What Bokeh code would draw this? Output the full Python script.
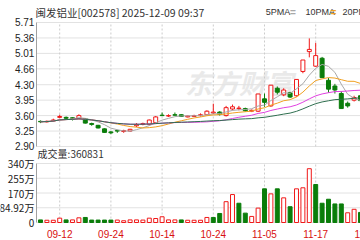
import numpy as np
import pandas as pd
from bokeh.plotting import figure
from bokeh.models import Label, Range1d, ColumnDataSource
from bokeh.embed import file_html
from bokeh.resources import INLINE

# ---------------- data ----------------
dates = ["09-09", "09-10", "09-11", "09-12", "09-15", "09-16", "09-17", "09-18", "09-19", "09-22",
         "09-23", "09-24", "09-25", "09-26", "09-29", "09-30", "10-09", "10-10", "10-13", "10-14",
         "10-15", "10-16", "10-17", "10-20", "10-21", "10-22", "10-23", "10-24", "10-27", "10-28",
         "10-29", "10-30", "10-31", "11-03", "11-04", "11-05", "11-06", "11-07", "11-10", "11-11",
         "11-12", "11-13", "11-14", "11-17", "11-18", "11-19", "11-20", "11-21", "11-24", "11-25",
         "11-26"]
opens = [3.47, 3.46, 3.48, 3.56, 3.56, 3.55, 3.53, 3.53, 3.42, 3.38,
         3.30, 3.23, 3.26, 3.24, 3.25, 3.37, 3.40, 3.40, 3.44, 3.61,
         3.59, 3.62, 3.62, 3.57, 3.58, 3.60, 3.62, 3.66, 3.68, 3.60,
         3.75, 3.76, 3.76, 3.70, 3.70, 3.98, 3.82, 4.22, 4.07, 4.12,
         4.05, 4.60, 5.05, 4.72, 4.90, 4.40, 4.27, 4.10, 3.88, 3.95,
         4.05]
highs = [3.49, 3.49, 3.53, 3.62, 3.58, 3.56, 3.63, 3.54, 3.44, 3.39,
         3.31, 3.25, 3.28, 3.28, 3.30, 3.43, 3.44, 3.51, 3.59, 3.67,
         3.63, 3.67, 3.63, 3.60, 3.62, 3.65, 3.72, 3.87, 3.70, 3.82,
         3.85, 3.82, 3.78, 3.74, 4.09, 4.10, 4.29, 4.26, 4.22, 4.14,
         4.42, 4.86, 5.35, 5.25, 4.93, 4.45, 4.32, 4.15, 3.92, 4.05,
         4.08]
lows = [3.43, 3.44, 3.46, 3.54, 3.50, 3.49, 3.52, 3.42, 3.37, 3.31,
        3.21, 3.18, 3.21, 3.21, 3.23, 3.34, 3.38, 3.38, 3.42, 3.59,
        3.57, 3.60, 3.57, 3.56, 3.57, 3.58, 3.61, 3.64, 3.60, 3.58,
        3.72, 3.72, 3.69, 3.68, 3.68, 3.80, 3.80, 4.08, 4.04, 4.00,
        4.03, 4.56, 4.92, 4.70, 4.46, 4.12, 4.10, 3.76, 3.78, 3.92,
        3.90]
closes = [3.46, 3.47, 3.50, 3.58, 3.54, 3.54, 3.60, 3.43, 3.40, 3.32,
          3.22, 3.21, 3.25, 3.26, 3.29, 3.40, 3.42, 3.50, 3.57, 3.60,
          3.60, 3.61, 3.58, 3.59, 3.60, 3.62, 3.70, 3.68, 3.63, 3.78,
          3.80, 3.77, 3.71, 3.72, 4.09, 3.90, 4.29, 4.13, 4.18, 4.02,
          4.42, 4.86, 5.10, 4.96, 4.46, 4.20, 4.18, 3.76, 3.82, 4.01,
          3.94]
volumes_wan = [15, 13, 13, 25, 15, 15, 27, 29, 14, 14,
               14, 14, 14, 10, 15, 15, 14, 25, 23, 33,
               15, 15, 15, 13, 13, 13, 29, 29, 52, 120,
               161, 111, 54, 35, 83, 194, 165, 194, 142, 91,
               194, 200, 310, 219, 111, 134, 107, 107, 56, 76,
               58]

price_ticks = [2.90, 3.25, 3.60, 3.95, 4.30, 4.66, 5.01, 5.36, 5.71]
price_tick_labels = ["2.90", "3.25", "3.60", "3.95", "4.30", "4.66", "5.01", "5.36", "5.71"]
vol_ticks = [0, 849200, 1700000, 2550000, 3400000]
vol_tick_labels = ["0", "84.92万", "170万", "255万", "340万"]
date_tick_idx = [3, 11, 19, 27, 35, 43, 51]
date_tick_labels = ["09-12", "09-24", "10-14", "10-24", "11-05", "11-17", "11-27"]
ma_windows = [5, 10, 20, 30]
ma_names = ["5PMA", "10PMA", "20PMA", "30PMA"]
title_text = "闽发铝业[002578] 2025-12-09 09:37"
vol_title = "成交量:360831"

# ---------------- styles ----------------
UP = "#f01818"
DOWN = "#0a7d0a"
MA_COLORS = ["#a8a8a8", "#f0a020", "#e040e0", "#2f6f4f"]
GRID = "#e2e2e2"
VGRID = "#cccccc"
BORDER = "#a0a0a0"
CJK = "Noto Sans CJK SC"
LAT = "Liberation Sans"

n = len(closes)
idx = np.arange(n)
o = np.array(opens); c = np.array(closes); h = np.array(highs); l = np.array(lows)
vol = np.array(volumes_wan) * 1e4
up = c >= o
prev_close = np.r_[o[0], c[:-1]]
vol_up = c >= prev_close

src = ColumnDataSource(dict(
    x=idx, top=np.maximum(o, c), bottom=np.minimum(o, c), high=h, low=l,
    color=[UP if u else DOWN for u in up],
    fill=["#ffffff" if u else DOWN for u in up],
    vol=vol,
    vcolor=[UP if u else DOWN for u in vol_up],
    vfill=["#ffffff" if u else DOWN for u in vol_up],
))

# one frame over the whole 360x240 canvas; price on the main y range,
# volume on an extra y range placed in the lower band
X0, X1 = -0.625, 50.0          # price/volume panels' left edge .. canvas right edge
p = figure(width=360, height=240, x_range=Range1d(-6.25, 50.0),
           y_range=Range1d(0.7698, 6.2085),
           output_backend="svg", toolbar_location=None,
           min_border=0, min_border_left=0, min_border_right=0,
           min_border_top=0, min_border_bottom=0)
p.extra_y_ranges = {"vol": Range1d(-1037288, 12793220)}
p.axis.visible = False
p.grid.visible = False
p.outline_line_color = None
p.background_fill_color = "white"
p.border_fill_color = "white"

# grid lines of the price panel
p.segment(x0=[X0] * len(price_ticks), x1=[X1 + 1] * len(price_ticks),
          y0=price_ticks, y1=price_ticks, line_color=GRID, line_width=1)
p.segment(x0=date_tick_idx, x1=date_tick_idx, y0=price_ticks[0], y1=price_ticks[-1],
          line_color=VGRID, line_width=1, line_dash="2 2")
# grid lines of the volume panel
p.segment(x0=[X0] * len(vol_ticks), x1=[X1 + 1] * len(vol_ticks),
          y0=vol_ticks, y1=vol_ticks, line_color=GRID, line_width=1, y_range_name="vol")
p.segment(x0=date_tick_idx, x1=date_tick_idx, y0=vol_ticks[0], y1=vol_ticks[-1],
          line_color=VGRID, line_width=1, line_dash="2 2", y_range_name="vol")

# watermark
p.add_layout(Label(x=31.0, y=4.35, text="东方财富", text_font=CJK, text_font_size="27px",
                   text_font_style="bold italic", text_color="#e9e9e9", text_align="center",
                   text_baseline="middle", level="underlay"))

# candles
p.segment(x0="x", y0="low", x1="x", y1="high", color="color", line_width=1, source=src)
p.vbar(x="x", top="top", bottom="bottom", width=0.62, fill_color="fill",
       line_color="color", line_width=1, source=src)

# moving averages
s = pd.Series(closes)
for w, col in zip(ma_windows, MA_COLORS):
    ma = s.rolling(w, min_periods=1).mean().values
    p.line(idx, ma, line_color=col, line_width=1)

# volume bars
p.vbar(x="x", top="vol", bottom=0, width=0.62, fill_color="vfill",
       line_color="vcolor", line_width=1, source=src, y_range_name="vol")

# left borders
p.segment(x0=[X0], x1=[X0], y0=[price_ticks[0]], y1=[price_ticks[-1]],
          line_color=BORDER, line_width=1)
p.segment(x0=[X0], x1=[X0], y0=[vol_ticks[0]], y1=[vol_ticks[-1]],
          line_color=BORDER, line_width=1, y_range_name="vol")

# tick labels
for t, lab in zip(price_ticks, price_tick_labels):
    p.add_layout(Label(x=-0.95, y=t, text=lab, text_font=LAT, text_font_size="10px",
                       text_color="#222222", text_align="right", text_baseline="middle"))
for t, lab in zip(vol_ticks, vol_tick_labels):
    p.add_layout(Label(x=-0.95, y=t, text=lab, text_font=CJK, text_font_size="10px",
                       text_color="#222222", text_align="right", text_baseline="middle",
                       y_range_name="vol"))
for t, lab in zip(date_tick_idx, date_tick_labels):
    p.add_layout(Label(x=t, y=-634000, text=lab, text_font=LAT, text_font_size="10px",
                       text_color="#d81010", text_align="center", text_baseline="middle",
                       y_range_name="vol"))

# titles and legend
p.add_layout(Label(x=-0.8, y=5.937, text=title_text, text_font=CJK, text_font_size="10.5px",
                   text_color="#333333", text_align="left", text_baseline="middle"))
leg_x = [35.2, 41.4, 47.2]
mark_x = [39.0, 45.3]
for k, lx in enumerate(leg_x):
    p.add_layout(Label(x=lx, y=5.937, text=ma_names[k], text_font=LAT, text_font_size="9px",
                       text_color="#333333", text_align="left", text_baseline="middle"))
for k, mx in enumerate(mark_x):
    p.add_layout(Label(x=mx, y=5.937, text="=", text_font=LAT, text_font_size="10px",
                       text_font_style="bold", text_color=MA_COLORS[k],
                       text_align="left", text_baseline="middle"))
p.add_layout(Label(x=-0.45, y=3976000, text=vol_title, text_font=CJK, text_font_size="10px",
                   text_color="#333333", text_align="left", text_baseline="middle",
                   y_range_name="vol"))

open("out.html", "w").write(file_html(p, INLINE))
